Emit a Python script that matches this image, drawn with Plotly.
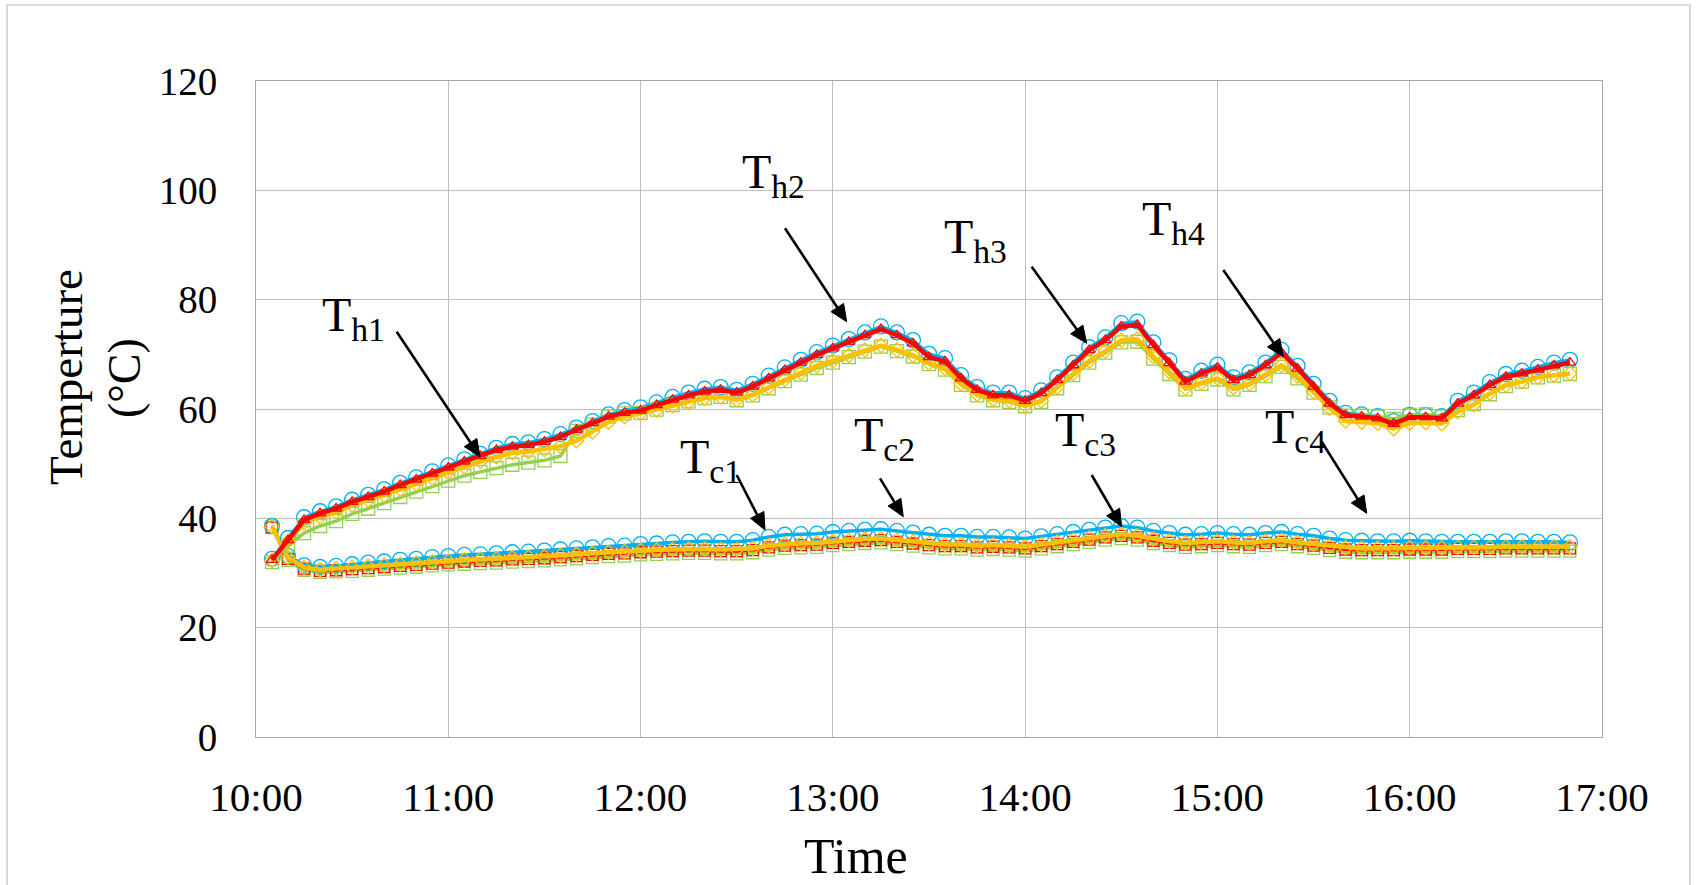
import math
import pandas as pd
import plotly.graph_objects as go

# ---------------- data ----------------
times = pd.date_range("2020-01-01 10:05", "2020-01-01 16:50", freq="5min")
x_tick_labels = ["10:00", "11:00", "12:00", "13:00", "14:00", "15:00", "16:00", "17:00"]
y_ticks = [0, 20, 40, 60, 80, 100, 120]

# hot-side temperatures (°C)
th_blue = [32.6, 36.4, 40.2, 41.3, 42.2, 43.4, 44.3, 45.3, 46.5, 47.5, 48.6, 49.7,
           50.8, 51.8, 52.9, 53.6, 53.9, 54.5, 55.4, 56.6, 57.8, 59.0, 59.8, 60.3,
           61.2, 62.2, 63.0, 63.7, 64.0, 63.5, 64.6, 66.1, 67.6, 69.0, 70.4, 71.6,
           72.8, 74.0, 75.1, 74.0, 72.6, 70.1, 69.3, 66.2, 64.0, 63.0, 63.0, 62.0,
           63.4, 65.8, 68.5, 71.3, 73.1, 75.7, 76.0, 72.2, 68.9, 65.5, 67.0, 68.1,
           65.8, 66.7, 68.5, 70.8, 67.9, 64.6, 61.5, 59.3, 59.0, 58.7, 57.8, 58.9,
           58.9, 58.7, 61.5, 63.0, 64.9, 66.4, 67.0, 67.7, 68.5, 69.0]
th_green = [32.0, 35.0, 37.3, 38.6, 39.5, 40.8, 41.8, 42.8, 43.9, 44.9, 45.9, 46.9,
            47.8, 48.5, 49.2, 49.8, 50.2, 50.6, 51.4, 56.0, 57.2, 58.6, 59.2, 59.3,
            59.9, 60.7, 61.4, 62.0, 62.2, 61.6, 62.5, 63.8, 65.1, 66.3, 67.5, 68.5,
            69.5, 70.5, 71.4, 70.6, 69.6, 68.2, 67.2, 64.4, 62.5, 61.6, 61.3, 60.5,
            61.3, 63.8, 66.2, 68.5, 70.3, 72.2, 72.3, 69.2, 66.4, 63.6, 64.6, 65.4,
            63.6, 64.4, 66.0, 67.7, 65.6, 63.0, 60.3, 58.8, 58.8, 58.6, 58.2, 58.9,
            59.0, 58.6, 59.8, 60.9, 62.7, 64.2, 65.0, 65.8, 66.1, 66.4]
th_orange = [32.3, 35.8, 39.2, 40.3, 41.2, 42.4, 43.3, 44.2, 45.3, 46.3, 47.4, 48.4,
             49.4, 50.4, 51.3, 52.0, 52.2, 52.6, 53.2, 54.2, 55.8, 57.6, 58.6, 59.2,
             59.8, 60.6, 61.3, 62.0, 62.2, 61.7, 62.6, 64.0, 65.4, 66.6, 67.9, 68.8,
             69.8, 70.8, 71.6, 70.8, 69.8, 68.4, 67.4, 64.6, 62.7, 61.8, 61.5, 60.6,
             61.5, 64.0, 66.5, 68.8, 70.6, 72.6, 72.8, 69.6, 66.8, 63.8, 64.8, 65.6,
             63.9, 64.6, 66.3, 68.0, 66.0, 63.2, 60.2, 57.8, 57.6, 57.4, 56.4, 57.4,
             57.5, 57.3, 59.5, 60.8, 62.9, 64.4, 65.0, 65.8, 66.2, 66.5]
th_red = [32.4, 36.0, 39.7, 40.9, 41.8, 43.0, 43.9, 44.9, 46.1, 47.1, 48.2, 49.3,
          50.4, 51.4, 52.5, 53.1, 53.4, 54.0, 54.9, 56.2, 57.4, 58.6, 59.3, 59.7,
          60.7, 61.7, 62.5, 63.2, 63.5, 63.0, 64.1, 65.6, 67.1, 68.5, 69.9, 71.1,
          72.3, 73.5, 74.6, 73.5, 72.0, 69.5, 68.7, 65.6, 63.5, 62.5, 62.5, 61.5,
          62.9, 65.3, 68.0, 70.8, 72.6, 75.1, 75.4, 71.7, 68.4, 65.0, 66.5, 67.6,
          65.3, 66.2, 68.0, 70.3, 67.4, 64.1, 61.0, 58.9, 58.6, 58.3, 57.3, 58.5,
          58.5, 58.3, 61.0, 62.5, 64.4, 65.9, 66.5, 67.2, 68.0, 68.5]

# cold-side temperatures (°C)
tc_blue = [38.6, 33.1, 31.4, 31.1, 31.3, 31.6, 31.9, 32.1, 32.4, 32.6, 32.9, 33.1,
           33.3, 33.4, 33.6, 33.8, 33.9, 34.1, 34.3, 34.5, 34.7, 34.9, 35.0, 35.3,
           35.4, 35.6, 35.7, 35.8, 35.7, 35.7, 36.0, 36.6, 37.0, 37.1, 37.2, 37.5,
           37.7, 37.9, 38.0, 37.7, 37.4, 37.0, 36.8, 36.8, 36.6, 36.6, 36.5, 36.3,
           36.7, 37.1, 37.5, 37.9, 38.3, 38.6, 38.3, 37.7, 37.3, 37.0, 37.1, 37.3,
           37.1, 37.0, 37.3, 37.5, 37.1, 36.8, 36.3, 36.0, 35.9, 35.8, 35.8, 35.9,
           35.8, 35.7, 35.7, 35.7, 35.7, 35.8, 35.8, 35.7, 35.7, 35.6]
tc_green = [38.4, 32.3, 30.5, 30.1, 30.2, 30.3, 30.5, 30.7, 30.9, 31.1, 31.3, 31.5,
            31.6, 31.7, 31.8, 32.0, 32.1, 32.2, 32.4, 32.6, 32.8, 33.0, 33.1, 33.3,
            33.4, 33.5, 33.6, 33.6, 33.5, 33.5, 33.7, 34.2, 34.5, 34.6, 34.7, 35.0,
            35.2, 35.4, 35.5, 35.2, 34.9, 34.6, 34.4, 34.4, 34.2, 34.3, 34.2, 34.0,
            34.4, 34.8, 35.2, 35.6, 36.0, 36.3, 36.0, 35.4, 35.0, 34.7, 34.8, 35.0,
            34.8, 34.7, 35.0, 35.2, 34.8, 34.5, 34.1, 33.8, 33.7, 33.7, 33.7, 33.8,
            33.8, 33.8, 33.9, 33.9, 33.9, 34.0, 34.0, 34.0, 34.0, 34.0]
tc_red = [38.3, 32.6, 30.8, 30.4, 30.5, 30.7, 30.9, 31.1, 31.3, 31.5, 31.7, 31.9,
          32.1, 32.2, 32.3, 32.5, 32.6, 32.7, 32.9, 33.1, 33.3, 33.5, 33.6, 33.8,
          33.9, 34.0, 34.1, 34.1, 34.0, 34.0, 34.2, 34.7, 35.0, 35.1, 35.2, 35.5,
          35.7, 35.9, 36.0, 35.7, 35.4, 35.1, 34.9, 34.9, 34.7, 34.8, 34.7, 34.5,
          34.9, 35.3, 35.7, 36.1, 36.5, 36.8, 36.5, 35.9, 35.5, 35.2, 35.3, 35.5,
          35.3, 35.2, 35.5, 35.7, 35.3, 35.0, 34.6, 34.3, 34.2, 34.2, 34.2, 34.3,
          34.3, 34.3, 34.4, 34.4, 34.4, 34.5, 34.5, 34.5, 34.5, 34.5]
tc_orange = [38.5, 32.8, 31.0, 30.6, 30.8, 31.0, 31.2, 31.4, 31.6, 31.8, 32.0, 32.2,
             32.4, 32.5, 32.6, 32.8, 32.9, 33.0, 33.2, 33.4, 33.6, 33.8, 33.9, 34.1,
             34.2, 34.3, 34.4, 34.4, 34.3, 34.3, 34.5, 35.0, 35.3, 35.4, 35.5, 35.8,
             36.0, 36.2, 36.3, 36.0, 35.7, 35.4, 35.2, 35.2, 35.0, 35.1, 35.0, 34.8,
             35.2, 35.6, 36.0, 36.4, 36.8, 37.1, 36.8, 36.2, 35.8, 35.5, 35.6, 35.8,
             35.6, 35.5, 35.8, 36.0, 35.6, 35.3, 34.9, 34.6, 34.5, 34.5, 34.5, 34.6,
             34.6, 34.6, 34.7, 34.7, 34.7, 34.8, 34.8, 34.8, 34.8, 34.8]

label_names = ["T<sub>h1</sub>", "T<sub>h2</sub>", "T<sub>h3</sub>", "T<sub>h4</sub>",
               "T<sub>c1</sub>", "T<sub>c2</sub>", "T<sub>c3</sub>", "T<sub>c4</sub>"]

# ---------------- styling ----------------
BLUE, RED, GREEN, ORANGE = "#00B0F0", "#FF0000", "#92D050", "#FFC000"
FONT = "Liberation Serif"
W, H = 1697, 885
L, R, T, B = 256, 95, 81, 148
PW, PH = W - L - R, H - T - B


def px(X):
    return (X - L) / PW


def py(Y):
    return (H - B - Y) / PH


fig = go.Figure()


def add(y, color, width, symbol, size, dash="solid"):
    fig.add_trace(go.Scatter(
        x=times, y=y, mode="lines+markers",
        line=dict(color=color, width=width, dash=dash),
        marker=dict(symbol=symbol, size=size, color=color,
                    line=dict(color=color, width=1.3)),
        showlegend=False, hoverinfo="skip"))


# cold side
add(tc_green, GREEN, 3, "square-open", 12)
add(tc_red, RED, 3, "square-open", 11)
add(tc_blue, BLUE, 3.5, "circle-open", 15)
add(tc_orange, ORANGE, 4.5, "diamond-open", 11)
# hot side
add(th_blue, BLUE, 3, "circle-open", 15)
add(th_green, GREEN, 3.5, "square-open", 13)
add(th_orange, ORANGE, 4.5, "diamond-open", 11)
add(th_red, RED, 4.5, "triangle-up-open", 10)

# text labels (top-left corners in px) and arrows (tail -> head, px)
label_pos = [(320, 286), (740, 143), (942, 208), (1140, 190),
             (678, 428), (852, 406), (1053, 401), (1263, 398)]
arrows = [((396.7, 331.7), (480, 456.7)),
          ((785, 228.3), (846.7, 321.7)),
          ((1031.7, 266.7), (1086.7, 343.3)),
          ((1223.3, 270), (1283.3, 356.7)),
          ((736.7, 475), (765, 530)),
          ((880, 478.3), (903.3, 516.7)),
          ((1091.7, 475), (1121.7, 526.7)),
          ((1321.7, 441.7), (1366.7, 513.3))]

annotations = []
for name, (lx, ly) in zip(label_names, label_pos):
    annotations.append(dict(text=name, x=px(lx), y=py(ly), xref="paper", yref="paper",
                            xanchor="left", yanchor="top", showarrow=False,
                            font=dict(family=FONT, size=48, color="black")))

# axis titles
annotations.append(dict(text="Temperture", x=px(66), y=py(377), xref="paper", yref="paper",
                        textangle=-90, xanchor="center", yanchor="middle", showarrow=False,
                        font=dict(family=FONT, size=47, color="black")))
annotations.append(dict(text="(°C)", x=px(124), y=py(378), xref="paper", yref="paper",
                        textangle=-90, xanchor="center", yanchor="middle", showarrow=False,
                        font=dict(family=FONT, size=46, color="black")))
annotations.append(dict(text="Time", x=px(856), y=py(826), xref="paper", yref="paper",
                        xanchor="center", yanchor="top", showarrow=False,
                        font=dict(family=FONT, size=50, color="black")))

# arrows as shapes: shaft line + filled triangular head
shapes = [dict(type="rect", xref="paper", yref="paper",
               x0=px(7), x1=px(1690), y0=py(5), y1=py(900),
               line=dict(color="#D9D9D9", width=2), fillcolor="rgba(0,0,0,0)",
               layer="below")]
HEAD_LEN, HEAD_HALF = 17, 7.5
for (tx, ty), (hx, hy) in arrows:
    dx, dy = hx - tx, hy - ty
    n = math.hypot(dx, dy)
    ux, uy = dx / n, dy / n
    bx, by = hx - ux * HEAD_LEN, hy - uy * HEAD_LEN
    nx, ny = -uy, ux
    shapes.append(dict(type="line", xref="paper", yref="paper",
                       x0=px(tx), y0=py(ty), x1=px(bx + ux * 2), y1=py(by + uy * 2),
                       line=dict(color="black", width=2.6)))
    p1 = (px(hx), py(hy))
    p2 = (px(bx + nx * HEAD_HALF), py(by + ny * HEAD_HALF))
    p3 = (px(bx - nx * HEAD_HALF), py(by - ny * HEAD_HALF))
    path = "M {:.6f},{:.6f} L {:.6f},{:.6f} L {:.6f},{:.6f} Z".format(*p1, *p2, *p3)
    shapes.append(dict(type="path", xref="paper", yref="paper", path=path,
                       fillcolor="black", line=dict(color="black", width=1)))

tick_dates = pd.date_range("2020-01-01 10:00", "2020-01-01 17:00", freq="60min")

fig.update_layout(
    width=W, height=H,
    margin=dict(l=L, r=R, t=T, b=B),
    paper_bgcolor="white", plot_bgcolor="white",
    font=dict(family=FONT, color="black"),
    annotations=annotations,
    shapes=shapes,
)
fig.update_xaxes(
    type="date",
    range=[tick_dates[0], tick_dates[-1]],
    tickvals=tick_dates, ticktext=x_tick_labels,
    showgrid=True, gridcolor="#BFBFBF", gridwidth=1,
    showline=True, linecolor="#A6A6A6", linewidth=1, mirror=True,
    ticks="", ticklabelstandoff=24,
    tickfont=dict(family=FONT, size=41, color="black"),
    zeroline=False,
)
fig.update_yaxes(
    range=[0, 120], tickvals=y_ticks,
    showgrid=True, gridcolor="#BFBFBF", gridwidth=1,
    showline=True, linecolor="#A6A6A6", linewidth=1, mirror=True,
    ticks="", ticklabelstandoff=30,
    tickfont=dict(family=FONT, size=39, color="black"),
    zeroline=False,
)

fig.write_html("out.html")
